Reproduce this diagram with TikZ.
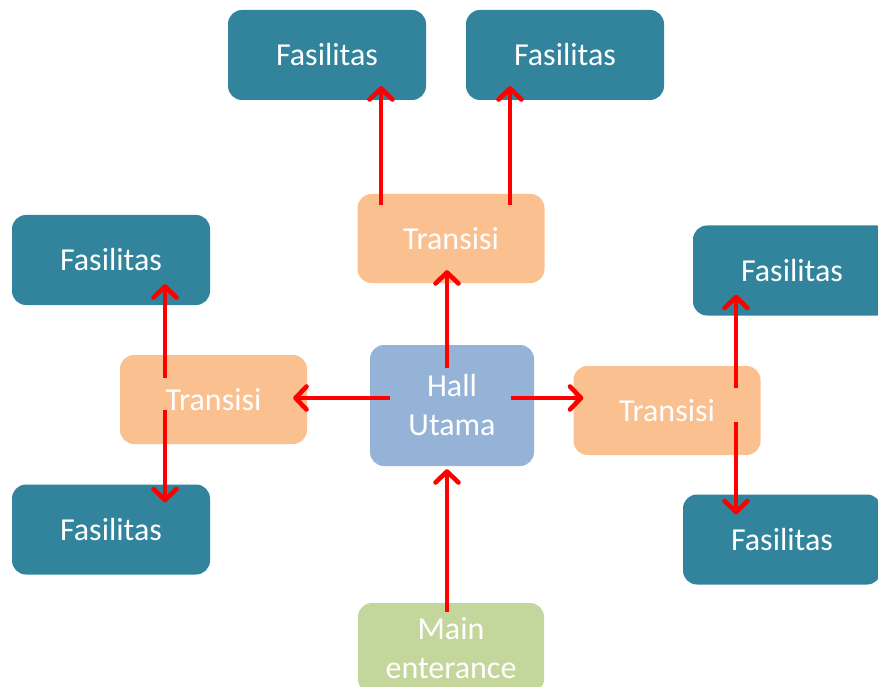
\documentclass[tikz,border=0pt]{standalone}
\usepackage{fontspec}
\setmainfont{Carlito}
\usetikzlibrary{calc,arrows.meta}
\definecolor{teal1}{HTML}{31849B}
\definecolor{peach}{HTML}{FAC090}
\definecolor{hallblue}{HTML}{95B3D7}
\definecolor{olive}{HTML}{C3D69B}
\definecolor{arrred}{HTML}{FF0000}
\tikzset{
  box/.style={rounded corners=14pt, inner sep=0pt, text=white, align=center,
    font=\fontsize{32}{39}\selectfont},
  fas/.style={box, fill=teal1, minimum width=198pt, minimum height=90pt},
  trans/.style={box, fill=peach, minimum width=187pt, minimum height=89pt},
  arr/.style={draw=arrred, line width=4.6pt, -{Straight Barb[length=11pt,width=23pt,round]}}
}
\begin{document}
\begin{tikzpicture}[x=1pt,y=-1pt]
\clip (0,0) rectangle (878,687);
\useasboundingbox (0,0) rectangle (878,687);
\node[fas] (f1) at (327,55) {Fasilitas};
\node[fas] (f2) at (565,55) {Fasilitas};
\node[trans] (tt) at (451,238.5) {Transisi};
\node[fas] (fl1) at (111,260) {Fasilitas};
\node[trans] (tl) at (213.5,399.5) {Transisi};
\node[fas] (fl2) at (111,529.5) {Fasilitas};
\node[box, fill=hallblue, minimum width=164pt, minimum height=121pt] (hall) at (452,405.5) {Hall\\Utama};
\node[trans] (tr) at (667,410.5) {Transisi};
\node[fas] (fr1) at (792,270.5) {Fasilitas};
\node[fas] (fr2) at (782,539.5) {Fasilitas};
\node[box, fill=olive, minimum width=186pt, minimum height=90pt] (main) at (451,648) {Main\\enterance};
% arrows
\draw[arr] ($(tt.north)+(-70,11)$) -- ($(f1.south)+(54,-14)$);
\draw[arr] ($(tt.north)+(59,11)$) -- ($(f2.south)+(-55,-14)$);
\draw[arr] ($(hall.north)+(-5,23)$) -- ($(tt.south)+(-4,-13)$);
\draw[arr] ($(hall.west)+(20,-7.5)$) -- ($(tl.east)+(-14,-1.5)$);
\draw[arr] ($(hall.east)+(-23,-7.5)$) -- ($(tr.west)+(10,-12.5)$);
\draw[arr] ($(main.north)+(-4,9)$) -- ($(hall.south)+(-5,3)$);
\draw[arr] ($(tl.north)+(-48.5,23)$) -- ($(fl1.south)+(54,-21)$);
\draw[arr] ($(tl.south)+(-48.5,-34)$) -- ($(fl2.north)+(54,18)$);
\draw[arr] ($(tr.north)+(69,22)$) -- ($(fr1.south)+(-56,-21)$);
\draw[arr] ($(tr.south)+(69,-33)$) -- ($(fr2.north)+(-46,20)$);
\end{tikzpicture}
\end{document}
